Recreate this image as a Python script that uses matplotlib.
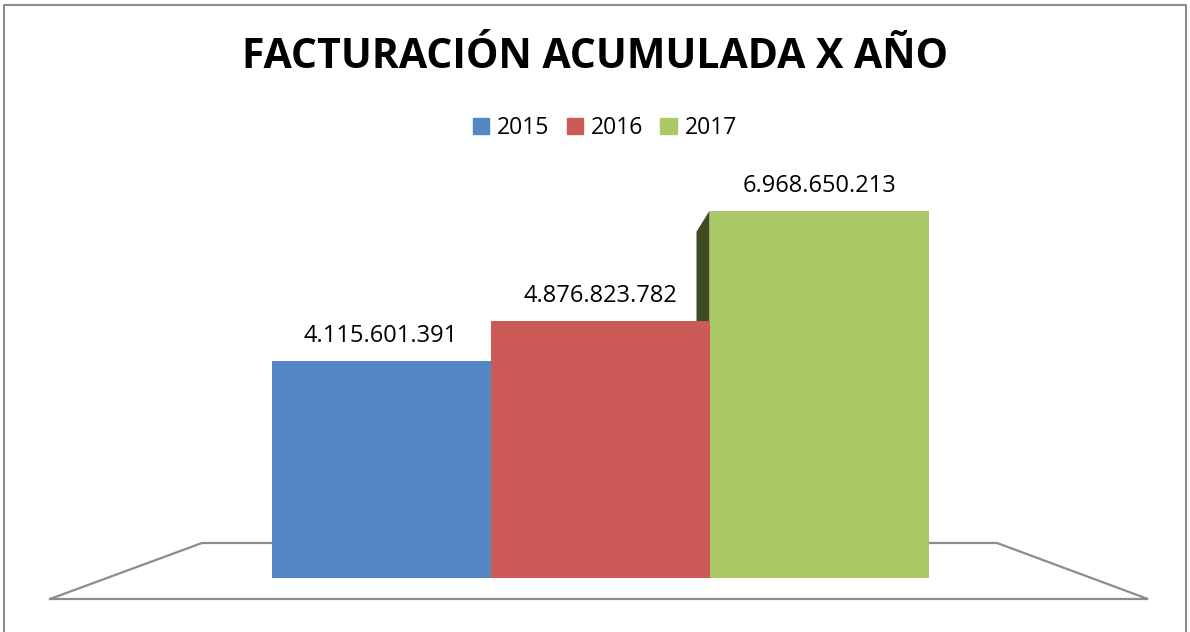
import matplotlib
matplotlib.use("Agg")
import matplotlib.pyplot as plt
from matplotlib.patches import Polygon, Rectangle
import numpy as np

years = ["2015", "2016", "2017"]
values = [4115601391, 4876823782, 6968650213]
labels = ["4.115.601.391", "4.876.823.782", "6.968.650.213"]
colors = ["#5286c4", "#cc5b57", "#abc967"]

W, H = 1190, 632
fig = plt.figure(figsize=(W / 100, H / 100), dpi=100)

# axes over the whole figure; pixel layout -> data units
bar_px = 219.0
x0_px = 381.0          # centre of first bar
base_px = 54.0         # baseline from bottom
px_per_val = 52.7e-9   # pixels per unit value

ax = fig.add_axes([0, 0, 1, 1])
ax.set_xlim(-x0_px / bar_px, (W - x0_px) / bar_px)
ax.set_ylim(-base_px / px_per_val, (H - base_px) / px_per_val)
ax.axis("off")

def px2x(p):
    return (p - x0_px) / bar_px

def px2y(p):  # p measured from top
    return (H - p - base_px) / px_per_val

x = np.arange(len(years))

# floor
ax.plot([px2x(50), px2x(202), px2x(997), px2x(1148), px2x(50)],
        [px2y(599), px2y(543), px2y(543), px2y(599), px2y(599)],
        color="#8c8c8c", lw=1.6, zorder=1, solid_joinstyle="miter")

# dark side face of the tallest bar
dx = -13 / bar_px
dy = -21 / px_per_val
xl = x[2] - 0.5
side = Polygon([(xl + dx, values[2] + dy), (xl, values[2]), (xl, 0), (xl + dx, 0)],
               closed=True, facecolor="#3f4b22", edgecolor="none", zorder=2)
ax.add_patch(side)

ax.bar(x, values, width=1.0, color=colors, zorder=3)

for xi, v, lab in zip(x, values, labels):
    ax.text(xi, v + 13 / px_per_val, lab, ha="center", va="bottom",
            fontsize=17, family="Open Sans", color="black", zorder=4)

# title
fig.text(0.5, 1 - 58 / H, "FACTURACIÓN ACUMULADA X AÑO", ha="center", va="center",
         fontsize=29.5, fontweight="bold", family="Open Sans")

# legend
handles = [Rectangle((0, 0), 1, 1, color=c) for c in colors]
fig.legend(handles, years, loc="center", bbox_to_anchor=(605 / W, 1 - 128 / H),
           ncol=3, frameon=False, prop={"family": "Open Sans", "size": 16.5},
           handlelength=0.7, handleheight=0.7, handletextpad=0.35, columnspacing=0.75)

# outer border (left, top, right)
fig.add_artist(plt.Line2D([4 / W, 4 / W, 1186 / W, 1186 / W],
                          [0, 1 - 5 / H, 1 - 5 / H, 0],
                          color="#8c8c8c", lw=1.5, transform=fig.transFigure))

fig.savefig("out.png", dpi=100)
